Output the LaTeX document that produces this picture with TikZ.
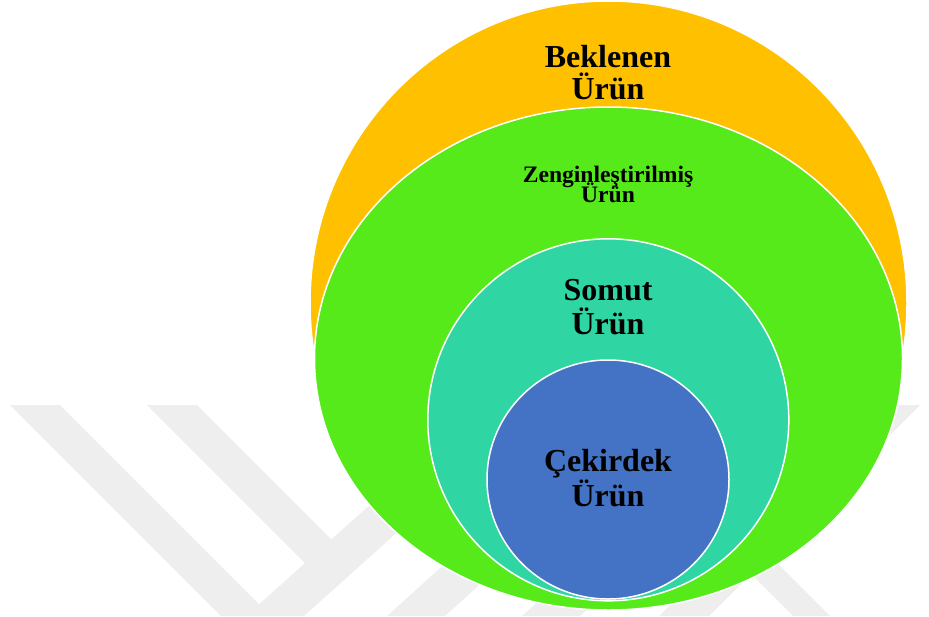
\documentclass[tikz,border=0pt]{standalone}
\usepackage{fontspec}
\setmainfont{Liberation Serif}
\definecolor{orangeC}{HTML}{FFC000}
\definecolor{greenC}{HTML}{56EA1B}
\definecolor{tealC}{HTML}{2FD6A3}
\definecolor{blueC}{HTML}{4472C4}
\definecolor{wmC}{HTML}{EEEEEE}
\newcommand{\twolines}[3]{\vtop{\baselineskip=#3\relax\lineskiplimit=-1000pt\relax\halign{\hfil##\hfil\cr #1\cr #2\cr}}}
\begin{document}
\begin{tikzpicture}[x=1pt,y=-1pt,
  ring/.style={draw=white, line width=1.5pt},
  wm/.style={fill=wmC, draw=none},
  lab/.style={anchor=base, inner sep=0pt, text=black},
  bigfont/.style={font=\fontsize{32}{34}\selectfont\bfseries},
  smallfont/.style={font=\fontsize{23.6}{21}\selectfont\bfseries}]
\useasboundingbox (0,0) rectangle (929,616);
\begin{scope}
\clip (0,0) rectangle (929,616);
% faint watermark
\fill[wm] (10,405) -- (60,405) -- (271,616) -- (221,616) -- cycle;
\fill[wm] (147,405) -- (197,405) -- (350,558) -- (320,578) -- cycle;
\fill[wm] (246,616) -- (460,424) -- (500,440) -- (304,616) -- cycle;
\fill[wm] (387,616) -- (520,496) -- (578,496) -- (445,616) -- cycle;
\fill[wm] (522,616) -- (640,510) -- (700,510) -- (580,616) -- cycle;
\fill[wm] (870,405) -- (920,405) -- (709,616) -- (659,616) -- cycle;
\fill[wm] (793,616) -- (830,616) -- (720,506) -- (683,506) -- cycle;
% nested shapes
\path[ring, fill=orangeC] (608.5,303) ellipse [x radius=298.5pt, y radius=302pt];
\path[ring, fill=greenC] (608.5,358.5) ellipse [x radius=294pt, y radius=251.5pt];
\path[ring, fill=tealC] (608.3,419.8) ellipse [x radius=180.5pt, y radius=181pt];
\path[ring, fill=blueC] (608,479.5) ellipse [x radius=121pt, y radius=119.5pt];
\end{scope}
% labels
\node[lab, bigfont] (beklenen) at (608,67) {\twolines{Beklenen}{Ürün}{32.5pt}};
\node[lab, smallfont] (zengin) at (608,182) {\twolines{Zenginleştirilmiş}{Ürün}{20.8pt}};
\node[lab, bigfont] (somut) at (608,300) {\twolines{Somut}{Ürün}{34pt}};
\node[lab, bigfont] (cekirdek) at (608,471) {\twolines{Çekirdek}{Ürün}{35pt}};
\end{tikzpicture}
\end{document}
